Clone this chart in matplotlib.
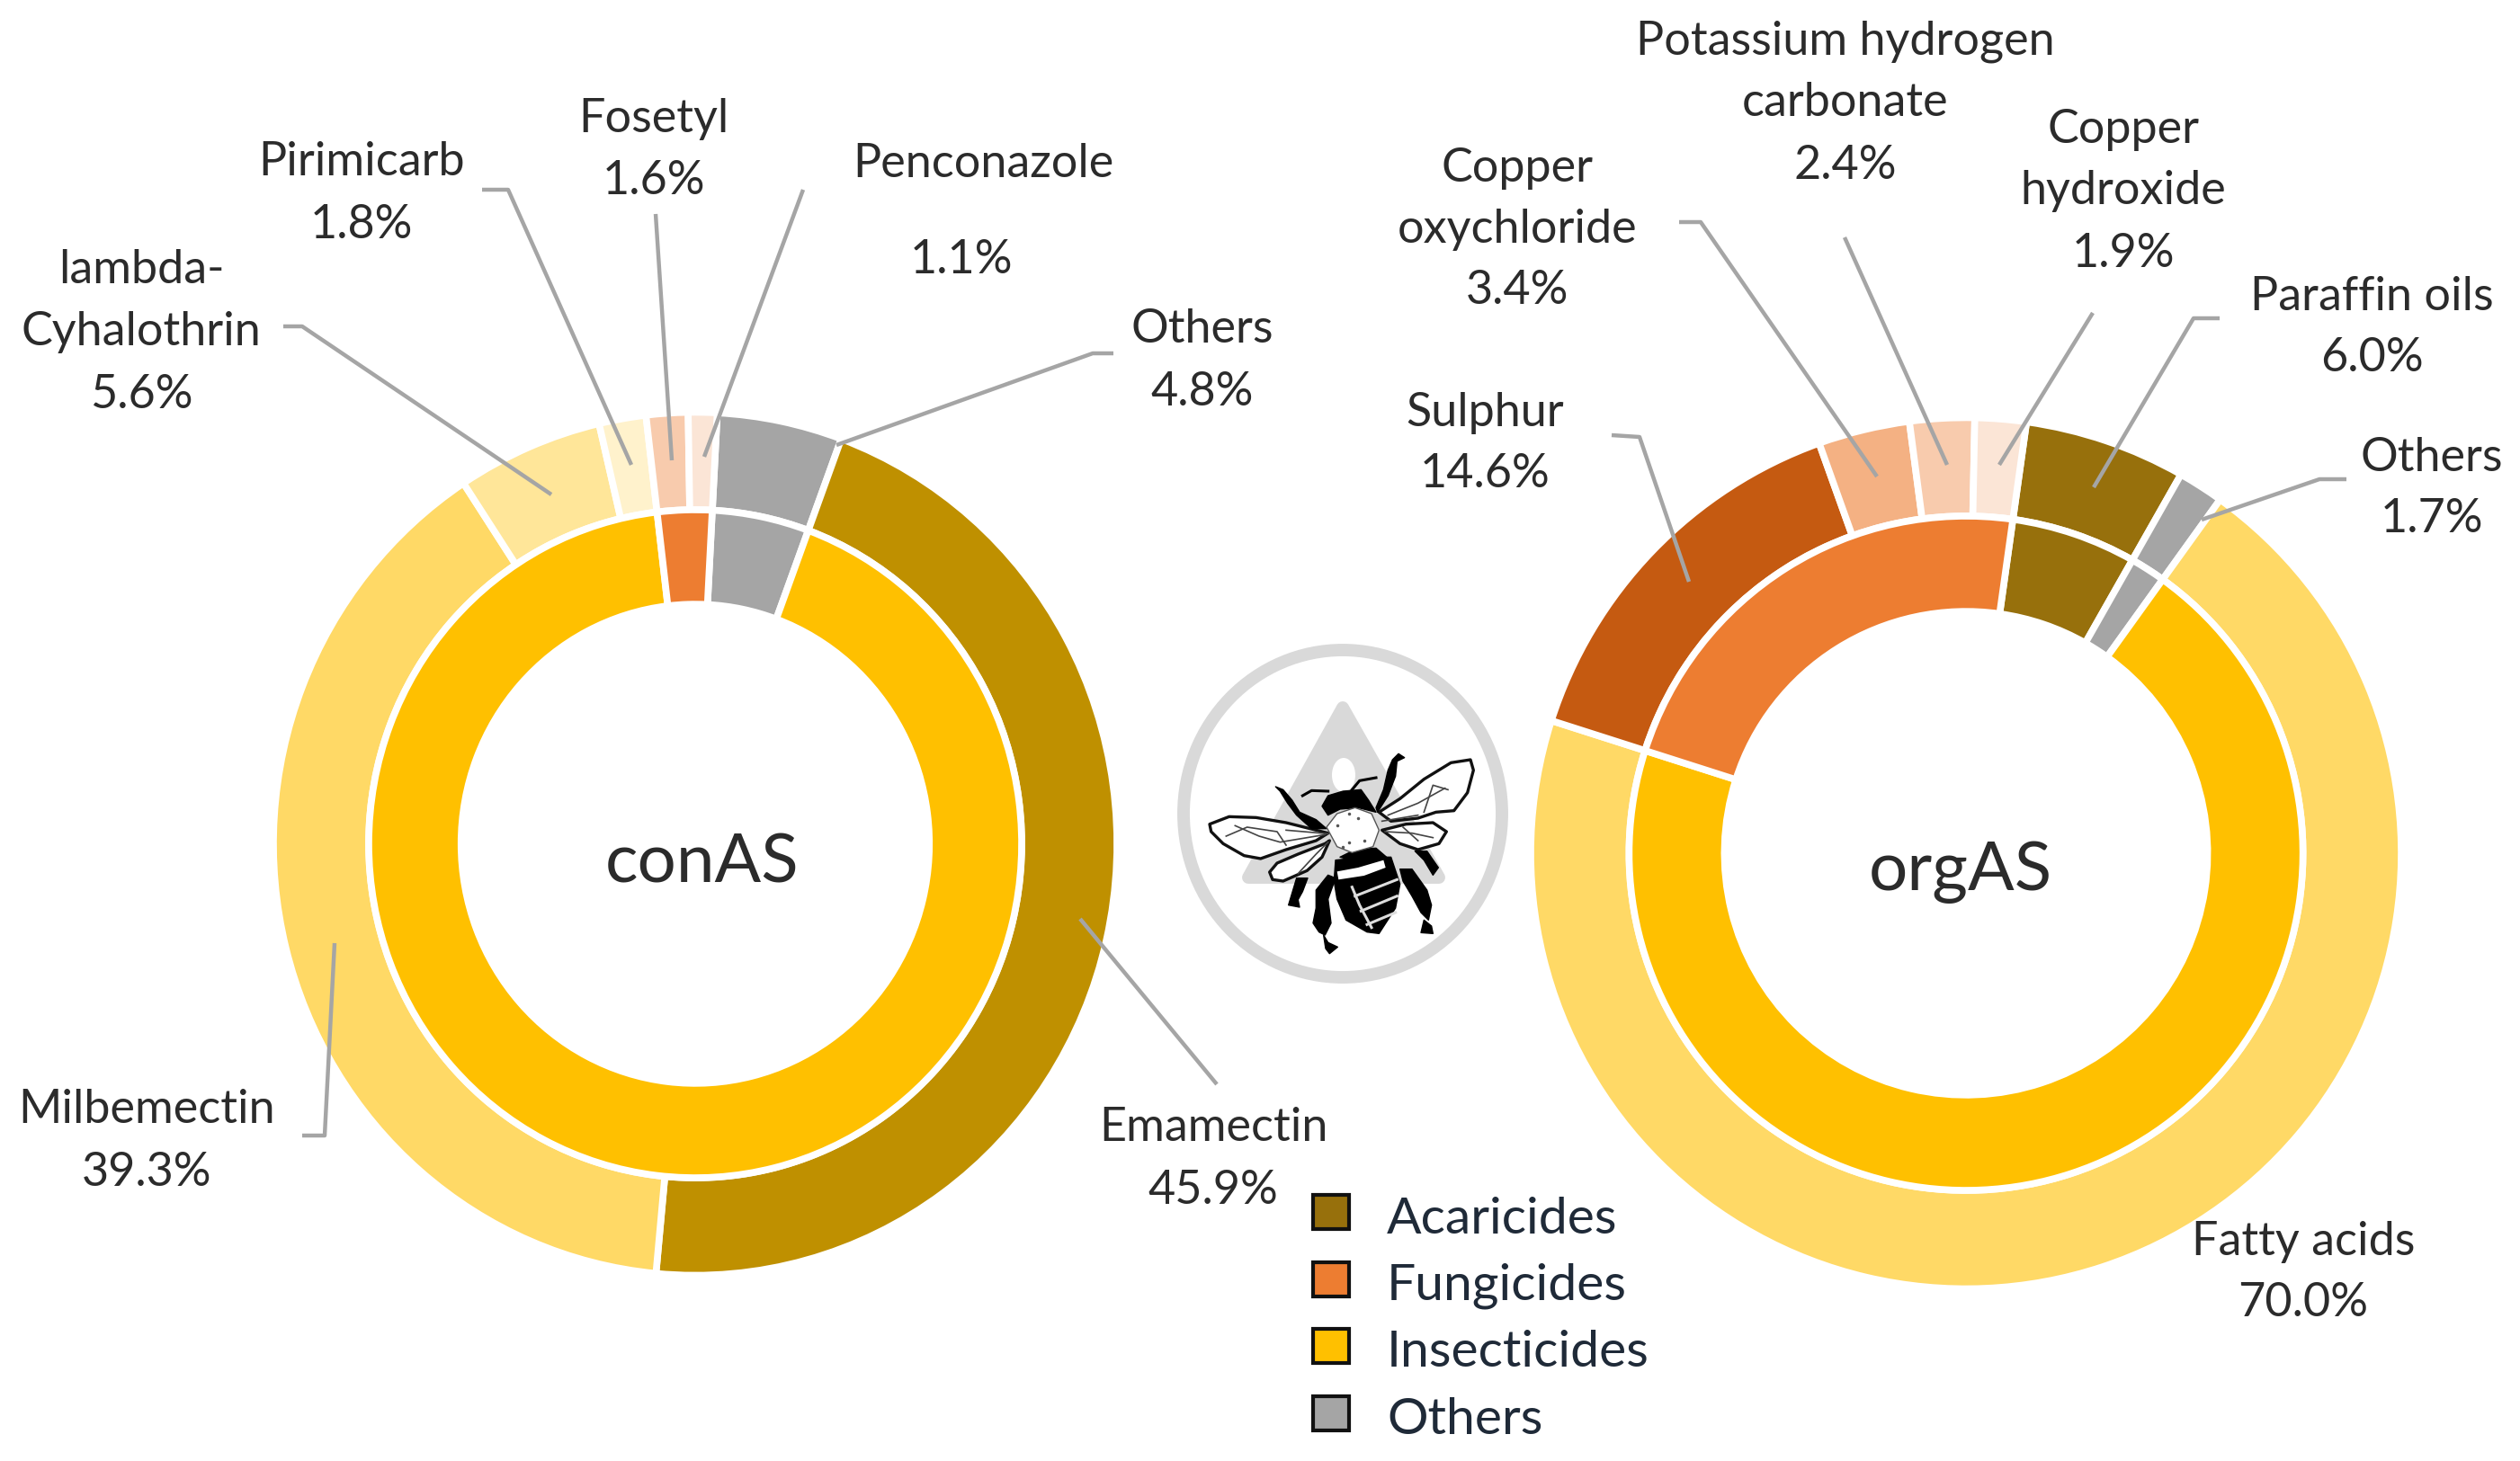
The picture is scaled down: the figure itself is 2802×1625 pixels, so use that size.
import matplotlib
matplotlib.use('Agg')
import matplotlib.pyplot as plt
from matplotlib.patches import Ellipse, Polygon, Rectangle

plt.rcParams['font.family'] = ['Lato', 'DejaVu Sans']

W, H = 2802, 1625
SCALE = 1.787  # preview pixels -> image pixels

# conAS
con_outer_labels = ['Others', 'Emamectin', 'Milbemectin', 'lambda-Cyhalothrin', 'Pirimicarb', 'Fosetyl', 'Penconazole']
con_outer_values = [4.8, 45.9, 39.3, 5.6, 1.8, 1.6, 1.1]
con_outer_colors = ['#A5A5A5', '#BF9000', '#FFD966', '#FFE699', '#FFF2CC', '#F8CBAD', '#FBE5D6']
con_inner_values = [4.8, 92.6, 2.7]
con_inner_colors = ['#A5A5A5', '#FFC000', '#ED7D31']

# orgAS
org_outer_labels = ['Paraffin oils', 'Others', 'Fatty acids', 'Sulphur', 'Copper oxychloride',
                    'Potassium hydrogen carbonate', 'Copper hydroxide']
org_outer_values = [6.0, 1.7, 70.0, 14.6, 3.4, 2.4, 1.9]
org_outer_colors = ['#97700C', '#A5A5A5', '#FFD966', '#C55A11', '#F4B183', '#F8CBAD', '#FBE5D6']
org_inner_values = [6.0, 1.7, 70.0, 22.3]
org_inner_colors = ['#97700C', '#A5A5A5', '#FFC000', '#ED7D31']

legend_labels = ['Acaricides', 'Fungicides', 'Insecticides', 'Others']
legend_colors = ['#97700C', '#ED7D31', '#FFC000', '#A5A5A5']

LINE = '#A5A5A5'
TEXT = '#2B2B2B'
FS = 37.5


def donut(cx, cy, rx, ry, start, outer_vals, outer_cols, inner_vals, inner_cols):
    # each donut has its own axes, the reference circles are a bit squashed
    ax = fig.add_axes([(cx - rx) / W, 1 - (cy + ry) / H, 2 * rx / W, 2 * ry / H])
    style = dict(edgecolor='white', linewidth=5.5)
    ax.pie(outer_vals, colors=outer_cols, radius=1.0, startangle=90 - start, counterclock=False,
           wedgeprops=dict(width=0.226, **style))
    ax.pie(inner_vals, colors=inner_cols, radius=0.774, startangle=90 - start, counterclock=False,
           wedgeprops=dict(width=0.219, **style))
    ax.set_aspect('auto')
    ax.set_xlim(-1, 1)
    ax.set_ylim(-1, 1)
    ax.patch.set_alpha(0)
    for p in ax.patches:
        p.set_clip_on(False)
    return ax


fig = plt.figure(figsize=(W / 100, H / 100), dpi=100, facecolor='white')

donut(773, 938.5, 469, 480, 3, con_outer_values, con_outer_colors, con_inner_values, con_inner_colors)
donut(2186, 949, 484, 484.5, 8, org_outer_values, org_outer_colors, org_inner_values, org_inner_colors)

# overlay in image pixels, for labels, leader lines, legend and the bee
ov = fig.add_axes([0, 0, 1, 1])
ov.set_xlim(0, W)
ov.set_ylim(H, 0)
ov.axis('off')
ov.patch.set_alpha(0)


def label(x, ys, lines, size=FS):
    for y, s in zip(ys, lines):
        ov.text(x * SCALE, (y + 2) * SCALE, s, ha='center', va='center', fontsize=size, color=TEXT)


label(88, [166, 205, 244], ['lambda-', 'Cyhalothrin', '5.6%'])
label(225, [99, 138], ['Pirimicarb', '1.8%'])
label(407, [72, 111], ['Fosetyl', '1.6%'])
label(612, [100], ['Penconazole'])
label(598, [160], ['1.1%'])
label(748, [203, 242], ['Others', '4.8%'])
label(91, [689, 728], ['Milbemectin', '39.3%'])
label(755, [700, 739], ['Emamectin', '45.9%'])
label(1148, [24, 62, 101], ['Potassium hydrogen', 'carbonate', '2.4%'])
label(944, [103, 141, 179], ['Copper', 'oxychloride', '3.4%'])
label(1321, [79, 117, 156], ['Copper', 'hydroxide', '1.9%'])
label(1476, [183, 221], ['Paraffin oils', '6.0%'])
label(1513, [283, 321], ['Others', '1.7%'])
label(924, [255, 293], ['Sulphur', '14.6%'])
label(1433, [771, 809], ['Fatty acids', '70.0%'])
label(437, [535], ['conAS'], size=55)
label(1220, [541], ['orgAS'], size=55)

# leader lines
leaders = [
    [(315, 363), (336, 363), (613, 550)],
    [(536, 211), (565, 211), (702, 517)],
    [(729, 238), (747, 512)],
    [(893, 211), (783, 508)],
    [(1238, 393), (1215, 393), (930, 495)],
    [(1353, 1206), (1201, 1022)],
    [(336, 1263), (361, 1263), (372, 1049)],
    [(1792, 484), (1823, 486), (1878, 647)],
    [(1867, 247), (1891, 247), (2087, 530)],
    [(2051, 264), (2165, 517)],
    [(2327, 348), (2223, 517)],
    [(2468, 354), (2439, 354), (2328, 542)],
    [(2609, 533), (2579, 533), (2448, 578)],
]
for pts in leaders:
    ov.plot([p[0] for p in pts], [p[1] for p in pts], color=LINE, lw=3.2, solid_capstyle='butt', zorder=3)

# legend
for i, (name, col) in enumerate(zip(legend_labels, legend_colors)):
    y = 1348 + i * 74.5
    ov.add_patch(Rectangle((1460, y - 19), 40, 38, facecolor=col, edgecolor='#111111', lw=3))
    ov.text(1542, y + 8, name, ha='left', va='center', fontsize=41, color='#1F2A38')

# bee logo
GREY = '#D9D9D9'
ov.add_patch(Ellipse((1493, 905), 354, 364, fill=False, edgecolor=GREY, lw=10))
ov.add_patch(Polygon([(1493, 787), (1388, 976), (1600, 976)], closed=True, facecolor=GREY,
                     edgecolor=GREY, lw=10, joinstyle='round'))
ov.add_patch(Ellipse((1494, 862), 26, 38, facecolor='white', edgecolor='none'))


def z(pts):
    # bee outline points are written in zoom-crop pixels
    return [(1330 + x / 3, 810 + y / 3) for x, y in pts]


wings = [
    [(45, 320), (110, 295), (200, 298), (300, 315), (380, 335), (440, 350), (400, 375), (300, 405),
     (215, 435), (160, 425), (90, 385), (50, 345)],
    [(245, 480), (270, 450), (340, 420), (430, 385), (445, 375), (420, 430), (370, 475), (290, 510), (255, 505)],
    [(610, 280), (680, 235), (760, 170), (850, 115), (915, 105), (925, 140), (905, 215), (860, 275),
     (800, 280), (740, 300), (650, 310)],
    [(620, 340), (700, 320), (790, 315), (835, 345), (810, 385), (740, 405), (680, 385)],
]
for w in wings:
    ov.add_patch(Polygon(z(w), closed=True, facecolor='white', edgecolor='#111111', lw=2.4, joinstyle='round', zorder=4))

veins = [
    [(100, 360), (170, 330), (270, 345), (300, 390)],
    [(130, 325), (210, 360), (280, 380), (430, 355)],
    [(300, 340), (440, 352)],
    [(340, 485), (400, 420), (440, 380)],
    [(640, 290), (740, 250), (830, 200)],
    [(760, 280), (790, 190), (840, 205)],
    [(620, 310), (740, 290)],
    [(630, 345), (720, 350), (790, 365)],
    [(690, 330), (740, 375)],
]
for v in veins:
    pts = z(v)
    ov.plot([p[0] for p in pts], [p[1] for p in pts], color='#444444', lw=1.2, zorder=4)

black_parts = [
    [(420, 260), (440, 225), (490, 210), (550, 205), (575, 240), (600, 280), (540, 265), (480, 270), (440, 290)],
    [(265, 195), (290, 205), (320, 240), (345, 280), (400, 305), (435, 335), (385, 335), (335, 290), (305, 250), (280, 210)],
    [(675, 85), (695, 98), (670, 110), (665, 160), (640, 225), (605, 280), (600, 265), (625, 205), (640, 140), (655, 105)],
    [(465, 440), (560, 430), (650, 430), (680, 520), (665, 600), (610, 685), (570, 680), (500, 640), (470, 570), (460, 510)],
    [(400, 540), (440, 490), (465, 500), (440, 570), (445, 610), (450, 650), (430, 690), (410, 680), (390, 650), (400, 600)],
    [(425, 690), (440, 715), (472, 730), (445, 752), (432, 735)],
    [(680, 470), (720, 470), (770, 540), (785, 590), (775, 640), (750, 615), (720, 560), (690, 510)],
    [(760, 640), (785, 660), (790, 685), (750, 682)],
    [(335, 500), (372, 500), (355, 545), (340, 572), (345, 597), (308, 590)],
    [(730, 410), (770, 410), (808, 465), (790, 490), (760, 440)],
    [(480, 430), (530, 405), (600, 400), (635, 430), (560, 450)],
]
for b in black_parts:
    ov.add_patch(Polygon(z(b), closed=True, facecolor='black', edgecolor='black', lw=1, joinstyle='round', zorder=5))

antennae = [[(355, 225), (385, 208), (440, 210)], [(520, 205), (545, 175), (600, 165)]]
for a in antennae:
    pts = z(a)
    ov.plot([p[0] for p in pts], [p[1] for p in pts], color='black', lw=2.2, zorder=5)

stripes = [[(530, 560), (670, 505)], [(550, 610), (670, 560)], [(570, 655), (665, 615)], [(520, 530), (545, 590), (585, 665)]]
for s in stripes:
    pts = z(s)
    ov.plot([p[0] for p in pts], [p[1] for p in pts], color='#DDDDDD', lw=2.2, zorder=6)

ov.add_patch(Polygon(z([(470, 478), (540, 465), (625, 440), (632, 465), (560, 492), (475, 505)]), closed=True,
                     facecolor='white', edgecolor='none', zorder=6))
ov.add_patch(Polygon(z([(435, 330), (470, 285), (530, 265), (585, 285), (610, 340), (590, 395), (520, 415), (470, 395)]),
                     closed=True, facecolor='white', edgecolor='#555555', lw=1, joinstyle='round', zorder=6))
speckles = [(470, 325), (510, 285), (560, 375), (510, 380), (490, 395), (540, 300)]
for sx, sy in z(speckles):
    ov.plot([sx], [sy], marker='o', ms=1.5, color='#555555', zorder=7)

fig.savefig('out.png', dpi=100)
